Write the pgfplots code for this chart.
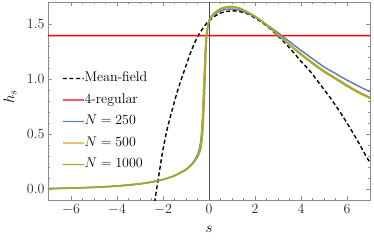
\RequirePackage{fix-cm}
\documentclass[border=0pt]{standalone}
\usepackage[OT1]{fontenc}
\renewcommand{\encodingdefault}{OT1}
\renewcommand{\rmdefault}{cmr}
\usepackage{pgfplots}
\pgfplotsset{compat=1.18}
\definecolor{mblue}{rgb}{0.368417,0.506779,0.709798}
\definecolor{morange}{rgb}{0.880722,0.611041,0.142051}
\definecolor{mgreen}{rgb}{0.560181,0.691569,0.194885}
\definecolor{mred}{rgb}{1,0,0}
\definecolor{framegray}{gray}{0.55}
\begin{document}
\fontencoding{OT1}\fontfamily{cmr}\selectfont
\begin{tikzpicture}[font=\fontsize{14}{16.8}\selectfont]
\useasboundingbox (-48pt,-42pt) rectangle (326pt,200pt);
\begin{axis}[
  at={(0,0)}, anchor=south west,
  scale only axis, width=322pt, height=198pt,
  xmin=-7, xmax=7, ymin=-0.1, ymax=1.7,
  xtick={-6,-4,...,6}, minor x tick num=3,
  ytick={0,0.5,1,1.5}, minor y tick num=4,
  yticklabel style={/pgf/number format/.cd,fixed,fixed zerofill,precision=1},
  tick align=inside,
  major tick length=4pt, minor tick length=2pt,
  axis line style={framegray, line width=0.6pt},
  every tick/.style={framegray, line width=0.5pt},
  tick label style={font=\fontsize{14}{16.8}\selectfont, text=black!85},
  xticklabel style={yshift=-1pt},
  xlabel={$s$}, ylabel={$h_s$},
  xlabel style={at={(axis description cs:0.5,-0.15)}, anchor=center, font=\fontsize{15}{18}\selectfont},
  ylabel style={at={(axis description cs:-0.118,0.52)}, anchor=center, font=\fontsize{15}{18}\selectfont},
  legend style={at={(axis description cs:0.0435,0.647)}, anchor=north west,
    draw=none, fill=none, font=\fontsize{14}{16.8}\selectfont,
    row sep=8.5pt, inner sep=0pt,
    nodes={text height=9.5pt, text depth=3.5pt, inner sep=0pt},
    /tikz/every even column/.append style={column sep=9pt}},
  legend cell align=left,
  legend image code/.code={\draw[#1, line width=1.3pt] plot[smooth] coordinates {(0pt,0pt) (10.5pt,0.01pt) (21pt,0pt)};},
]
\addplot[black!70, line width=0.7pt, forget plot] coordinates {(0,-0.1) (0,1.7)};
\addplot[black, line width=1.4pt, dash pattern=on 4pt off 2.6pt, smooth] coordinates {
(-2.45,-0.24) (-2.35,-0.10) (-2.2,0.10) (-2.0,0.36) (-1.8,0.56) (-1.6,0.72)
(-1.4,0.87) (-1.2,1.00) (-1.0,1.12) (-0.8,1.24) (-0.6,1.34) (-0.4,1.42)
(-0.2,1.48) (0,1.53) (0.25,1.57) (0.5,1.60) (0.8,1.615) (1.1,1.62)
(1.4,1.61) (1.7,1.59) (2.0,1.555) (2.4,1.50) (2.8,1.43) (3.2,1.35)
(3.6,1.26) (4.0,1.16) (4.4,1.07) (4.8,0.96) (5.2,0.85) (5.6,0.73)
(6.0,0.60) (6.4,0.46) (6.8,0.31) (7.0,0.24)};
\addlegendentry{Mean-field}
\addplot[mred, line width=1.4pt, solid, smooth] coordinates {(-7,1.394) (-3.5,1.3941) (0,1.394) (3.5,1.3941) (7,1.394)};
\addlegendentry{4-regular}
\addplot[mblue, line width=1.5pt, smooth, tension=0.4] coordinates {
(-7,0.004) (-6,0.009) (-5,0.016) (-4,0.028) (-3,0.048) (-2.5,0.064)
(-2,0.087) (-1.5,0.122) (-1.0,0.18) (-0.8,0.215) (-0.6,0.27) (-0.45,0.34)
(-0.35,0.45) (-0.28,0.65) (-0.22,0.95) (-0.17,1.20) (-0.12,1.38) (-0.06,1.47)
(0,1.52) (0.1,1.56) (0.25,1.59) (0.5,1.62) (0.75,1.633) (1.0,1.636)
(1.25,1.63) (1.5,1.615) (2.0,1.565) (2.5,1.495) (3.0,1.42) (3.5,1.34)
(4.0,1.26) (4.5,1.185) (5.0,1.11) (5.5,1.05) (6.0,0.99) (6.5,0.935) (7.0,0.885)};
\addlegendentry{$N = 250$}
\addplot[morange, line width=1.5pt, smooth, tension=0.4] coordinates {
(-7,0.003) (-6,0.008) (-5,0.015) (-4,0.027) (-3,0.047) (-2.5,0.063)
(-2,0.086) (-1.5,0.121) (-1.0,0.177) (-0.8,0.21) (-0.6,0.26) (-0.45,0.32)
(-0.36,0.40) (-0.3,0.55) (-0.25,0.80) (-0.2,1.05) (-0.15,1.30) (-0.1,1.42)
(-0.05,1.48) (0,1.525) (0.1,1.565) (0.25,1.60) (0.5,1.635) (0.75,1.648)
(1.0,1.652) (1.25,1.645) (1.5,1.625) (2.0,1.57) (2.5,1.495) (3.0,1.405)
(3.5,1.315) (4.0,1.23) (4.5,1.15) (5.0,1.075) (5.5,1.01) (6.0,0.945) (6.5,0.885) (7.0,0.835)};
\addlegendentry{$N = 500$}
\addplot[mgreen, line width=1.5pt, smooth, tension=0.4] coordinates {
(-7,0.003) (-6.5,0.005) (-6,0.008) (-5.5,0.011) (-5,0.015) (-4.5,0.020)
(-4,0.026) (-3.5,0.035) (-3,0.046) (-2.5,0.062) (-2,0.085) (-1.5,0.120)
(-1.2,0.150) (-1.0,0.175) (-0.75,0.22) (-0.5,0.29) (-0.35,0.37) (-0.27,0.52)
(-0.21,0.78) (-0.17,1.00) (-0.13,1.25) (-0.09,1.40) (-0.045,1.48) (0,1.53)
(0.1,1.57) (0.25,1.605) (0.5,1.64) (0.75,1.655) (1.0,1.66) (1.25,1.65)
(1.5,1.63) (2.0,1.57) (2.5,1.49) (3.0,1.40) (3.5,1.31) (4.0,1.22)
(4.5,1.14) (5.0,1.065) (5.5,1.00) (6.0,0.935) (6.5,0.875) (7.0,0.825)};
\addlegendentry{$N = 1000$}
\end{axis}
\end{tikzpicture}
\end{document}
